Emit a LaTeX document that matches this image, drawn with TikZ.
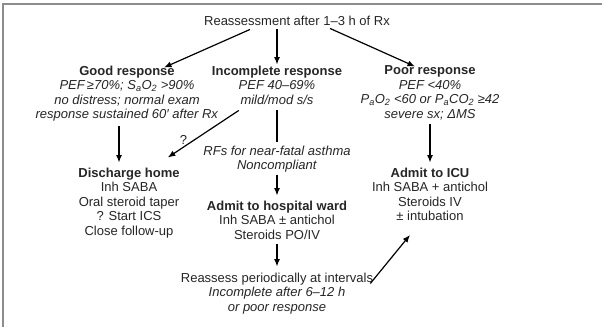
\documentclass[tikz,border=0pt]{standalone}
\usepackage{fontspec}
\setmainfont{Liberation Sans}
\usetikzlibrary{arrows.meta}

\tikzset{
    txt/.style={align=center, inner sep=0pt, anchor=north, text=black!85,
        font=\fontsize{13}{14.5}\selectfont},
    arr/.style={-{Latex[length=7.5pt,width=6pt]}, line width=1.2pt},
}

\begin{document}
\begin{tikzpicture}[x=1pt, y=-1pt]
                \useasboundingbox (0,0) rectangle (602,327);
                \fill [white] (0,0) rectangle (602,327);
                \draw [black!45, line width=1.6pt] (3,327) -- (3,4) -- (602,4);

                \node [txt] (top) at (297,15.5) {Reassessment after 1--3 h of Rx};

                \node [txt] (good) at (127,65.5) {\textbf{Good response}\\
                    \textit{PEF\,≥70\%; S\textsubscript{a}O\textsubscript{2} >90\%}\\
                    \textit{no distress; normal exam}\\
                    \textit{response sustained 60′ after Rx}};
                \node [txt] (incompl) at (277,65.5) {\textbf{Incomplete response}\\
                    \textit{PEF 40--69\%}\\
                    \textit{mild/mod s/s}};
                \node [txt] (poor) at (430,65.5) {\textbf{Poor response}\\
                    \textit{PEF <40\%}\\
                    \textit{P\textsubscript{a}O\textsubscript{2} <60 or P\textsubscript{a}CO\textsubscript{2} ≥42}\\
                    \textit{severe sx; ΔMS}};

                \node [txt] (rfs) at (277,145.5) {\textit{RFs for near-fatal asthma}\\
                    \textit{Noncompliant}};

                \node [txt] (home) at (129,167.5) {\textbf{Discharge home}\\
                    Inh SABA\\ Oral steroid taper\\ ? Start ICS\\ Close follow-up};
                \node [txt] (icu) at (430,167.5) {\textbf{Admit to ICU}\\
                    Inh SABA + antichol\\ Steroids IV\\ ± intubation};
                \node [txt] (ward) at (277,200.5) {\textbf{Admit to hospital ward}\\
                    Inh SABA ± antichol\\ Steroids PO/IV};

                \node [txt] (again) at (277,272.5) {Reassess periodically at intervals\\
                    \textit{Incomplete after 6--12 h}\\
                    \textit{or poor response}};

                \draw [arr] ([xshift=-47pt,yshift=-4pt]top.south) -- ([xshift=37pt,yshift=-2pt]good.north);
                \draw [arr] ([yshift=-4pt]top.south -| incompl.north) -- ([yshift=1pt]incompl.north);
                \draw [arr] ([xshift=33pt,yshift=-3pt]top.south) -- ([xshift=-15pt,yshift=-1pt]poor.north);

                \draw [arr, shorten <=4pt, shorten >=5pt] ([xshift=-8pt]good.south) -- ([xshift=-8pt]good.south |- home.north);
                \draw [arr, shorten <=4pt, shorten >=5pt] (poor.south) -- (poor.south |- icu.north);
                \draw [arr] ([xshift=27pt,yshift=-6pt]incompl.south west) -- ([xshift=-12pt,yshift=10pt]home.north east)
                    node [pos=0.78, above=2pt, txt, anchor=south] {?};

                \draw [line width=1.2pt, shorten <=6pt, shorten >=4pt] (incompl.south) -- (rfs.north);
                \draw [arr, shorten <=2pt, shorten >=5pt] (rfs.south) -- (ward.north);
                \draw [arr, shorten <=5pt, shorten >=6pt] (ward.south) -- (again.north);
                \draw [arr] ([xshift=-3pt,yshift=-11pt]again.north east) -- ([xshift=-20pt,yshift=-14pt]icu.south);
            \end{tikzpicture}
\end{document}
